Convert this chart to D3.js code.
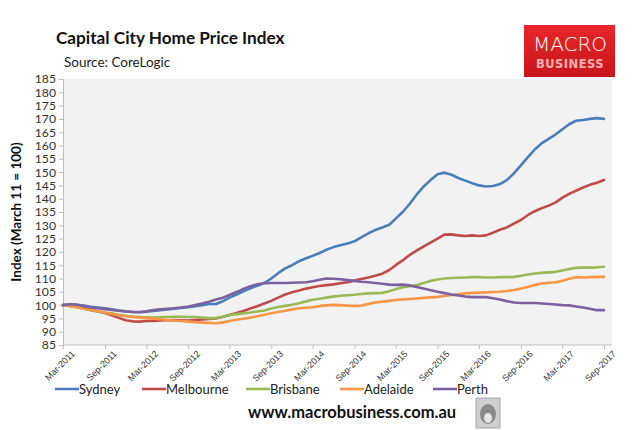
<!DOCTYPE html>
<html>
<head>
<meta charset="utf-8">
<script src="https://cdn.jsdelivr.net/npm/d3@7"></script>
<style>
  body { margin: 0; background: #fff; }
  svg { font-family: Lato, "Open Sans", sans-serif; }
</style>
</head>
<body>
<svg id="chart" width="640" height="430"></svg>
<script>
// monthly index, Mar-2011 .. Sep-2017
var sydney = [100, 100.2, 100, 99.8, 99.4, 99.1, 98.8, 98.4, 98, 97.7, 97.4, 97.3,
  97.5, 97.8, 98.1, 98.4, 98.6, 98.9, 99.2, 99.6, 100, 100.4, 100.4, 101.5,
  102.8, 104, 105.2, 106.3, 107.3, 108.3, 110, 112, 113.8, 115, 116.5, 117.6,
  118.5, 119.6, 120.8, 121.8, 122.5, 123.2, 124, 125.5, 127, 128.2, 129.2, 130.2,
  132.5, 135, 138, 141.5, 144.5, 147, 149.2, 149.8, 149, 147.8, 146.8, 145.8,
  145, 144.6, 144.8, 145.5, 147, 149.5, 152.5, 155.5, 158.5, 160.8, 162.5, 164.2,
  166, 168, 169.3, 169.6, 170, 170.3, 170];
var melbourne = [100, 99.8, 99.3, 98.8, 98.2, 97.6, 97, 96.2, 95.2, 94.3, 93.9, 93.8,
  94, 94, 94.2, 94.3, 94.4, 94.3, 94.2, 94.4, 94.6, 94.8, 95, 95.6,
  96.3, 97, 97.8, 98.7, 99.6, 100.6, 101.6, 102.8, 104, 104.8, 105.5, 106.2,
  106.7, 107.2, 107.5, 107.8, 108.2, 108.6, 109.2, 109.8, 110.4, 111, 111.8, 113.2,
  115, 116.8, 118.8, 120.5, 122, 123.5, 125, 126.5, 126.6, 126.2, 126, 126.2,
  126, 126.2, 127.2, 128.3, 129.2, 130.6, 132, 133.8, 135.3, 136.4, 137.4, 138.6,
  140.3, 141.8, 143, 144.2, 145.2, 146, 147];
var brisbane = [100, 99.6, 99.1, 98.6, 98.1, 97.6, 97.1, 96.8, 96.4, 96, 95.7, 95.5,
  95.4, 95.3, 95.4, 95.5, 95.6, 95.6, 95.5, 95.5, 95.3, 95.1, 95.1, 95.7,
  96.3, 96.6, 96.9, 97.2, 97.6, 98, 98.7, 99.3, 99.7, 100.1, 100.7, 101.4,
  102, 102.4, 102.8, 103.2, 103.5, 103.7, 103.9, 104.2, 104.4, 104.5, 104.6, 105.2,
  106, 106.7, 107.1, 107.5, 108.3, 109.1, 109.6, 110, 110.2, 110.3, 110.4, 110.5,
  110.5, 110.4, 110.4, 110.5, 110.5, 110.6, 111, 111.5, 111.9, 112.1, 112.3, 112.5,
  113, 113.6, 114, 114.1, 114.1, 114.2, 114.4];
var adelaide = [100, 99.7, 99.2, 98.7, 98.2, 97.7, 97.2, 96.7, 96.2, 95.8, 95.5, 95.3,
  95.1, 94.9, 94.7, 94.4, 94.2, 94, 93.8, 93.6, 93.4, 93.3, 93.2, 93.5,
  94, 94.5, 94.9, 95.3, 95.8, 96.4, 96.9, 97.4, 97.9, 98.4, 98.8, 99,
  99.2, 99.6, 99.9, 100.1, 100, 99.8, 99.7, 99.8, 100.4, 101, 101.3, 101.6,
  101.9, 102.1, 102.3, 102.5, 102.7, 102.9, 103.1, 103.4, 103.8, 104.1, 104.4, 104.6,
  104.7, 104.8, 104.9, 105, 105.3, 105.7, 106.2, 106.8, 107.6, 108.1, 108.4, 108.6,
  109.1, 109.9, 110.5, 110.4, 110.5, 110.6, 110.6];
var perth = [100, 100.3, 100.2, 99.6, 99.1, 98.8, 98.5, 98.2, 97.9, 97.6, 97.4, 97.4,
  97.7, 98.1, 98.4, 98.6, 98.8, 99.1, 99.5, 100, 100.6, 101.3, 102.1, 102.8,
  103.8, 104.9, 106.1, 107.1, 107.8, 108.2, 108.3, 108.3, 108.3, 108.4, 108.5, 108.6,
  109, 109.5, 110, 109.9, 109.7, 109.4, 109.1, 108.8, 108.6, 108.3, 108, 107.7,
  107.6, 107.7, 107.4, 106.8, 106.2, 105.6, 105, 104.5, 104, 103.6, 103.2, 103,
  103, 103, 102.6, 102.1, 101.5, 101, 100.8, 100.8, 100.8, 100.6, 100.4, 100.2,
  100, 99.9, 99.5, 99.1, 98.6, 98.1, 98.1];

var cities = ['Sydney', 'Melbourne', 'Brisbane', 'Adelaide', 'Perth'];
var colors = ['#4a7ebb', '#be4b48', '#98b954', '#f79646', '#7d60a0'];
var seriesValues = [sydney, melbourne, brisbane, adelaide, perth];
var xTickLabels = ['Mar-2011', 'Sep-2011', 'Mar-2012', 'Sep-2012', 'Mar-2013', 'Sep-2013',
  'Mar-2014', 'Sep-2014', 'Mar-2015', 'Sep-2015', 'Mar-2016', 'Sep-2016', 'Mar-2017', 'Sep-2017'];
var yTicks = d3.range(85, 186, 5);

var months = d3.timeMonth.range(new Date(2011, 2, 1), new Date(2017, 9, 1));
var parseTick = d3.timeParse('%b-%Y');

var svg = d3.select('#chart');
var margin = { top: 79, right: 28, bottom: 85, left: 63 };
var width = 640 - margin.left - margin.right;
var height = 430 - margin.top - margin.bottom;

var x = d3.scaleTime().domain([months[0], months[months.length - 1]]).range([0, width - 8]);
var y = d3.scaleLinear().domain([85, 185]).range([height, 0]);

// title block
svg.append('text').attr('x', 56).attr('y', 44)
  .style('font-size', '17.2px').style('font-weight', 'bold').style('fill', '#111')
  .text('Capital City Home Price Index');
svg.append('text').attr('x', 64).attr('y', 67)
  .style('font-size', '13.5px').style('fill', '#222')
  .text('Source: CoreLogic');

// logo box
var logo = svg.append('g').attr('transform', 'translate(524,25)');
var grad = svg.append('defs').append('linearGradient').attr('id', 'red')
  .attr('x1', 0).attr('y1', 0).attr('x2', 0).attr('y2', 1);
grad.append('stop').attr('offset', '0%').attr('stop-color', '#e8262a');
grad.append('stop').attr('offset', '100%').attr('stop-color', '#c8161b');
logo.append('rect').attr('width', 91).attr('height', 52).attr('fill', 'url(#red)');
logo.append('text').attr('x', 46).attr('y', 26).attr('text-anchor', 'middle')
  .style('font-family', '"DejaVu Sans", sans-serif').style('font-size', '20px')
  .style('fill', '#fff').style('font-weight', '300').text('MACRO');
logo.append('text').attr('x', 46).attr('y', 43).attr('text-anchor', 'middle')
  .style('font-family', '"DejaVu Sans", sans-serif').style('font-size', '11.5px')
  .style('font-weight', 'bold').style('letter-spacing', '0.5px')
  .style('fill', '#f7b3b3').text('BUSINESS');

var g = svg.append('g').attr('transform', 'translate(' + margin.left + ',' + margin.top + ')');

g.append('rect').attr('width', width).attr('height', height).attr('fill', '#f2f2f2');

// y axis
var yAxis = g.append('g').call(d3.axisLeft(y).tickValues(yTicks).tickSize(4).tickPadding(3));
yAxis.select('.domain').attr('stroke', '#bdbdbd');
yAxis.selectAll('.tick line').attr('stroke', '#bdbdbd');
yAxis.selectAll('text').style('font-size', '12.2px').style('fill', '#333').style('font-family', 'Lato, sans-serif');

// x axis
var xAxis = g.append('g').attr('transform', 'translate(0,' + height + ')')
  .call(d3.axisBottom(x).tickValues(xTickLabels.map(parseTick))
    .tickFormat(d3.timeFormat('%b-%Y')).tickSize(4).tickSizeOuter(0));
xAxis.select('.domain').attr('stroke', '#bdbdbd').attr('d', 'M0.5,0H' + width);
xAxis.selectAll('.tick line').attr('stroke', '#bdbdbd');
xAxis.selectAll('text')
  .style('font-size', '9px').style('fill', '#333')
  .attr('text-anchor', 'end').attr('dx', '0.2em').attr('dy', '0.9em')
  .attr('transform', 'rotate(-45)');

// y title
svg.append('text').attr('transform', 'translate(21,212) rotate(-90)')
  .attr('text-anchor', 'middle').style('font-size', '13.5px').style('font-weight', 'bold')
  .style('fill', '#111').text('Index (March 11 = 100)');

// lines
var line = d3.line()
  .x(function(d, i) { return x(months[i]); })
  .y(function(d) { return y(d); });

seriesValues.forEach(function(values, i) {
  g.append('path').datum(values)
    .attr('fill', 'none').attr('stroke', colors[i]).attr('stroke-width', 2.6)
    .attr('stroke-linejoin', 'round').attr('stroke-linecap', 'round')
    .attr('d', line);
});

// legend
var legendX = [55, 142, 246, 340, 433];
var legend = svg.append('g').attr('transform', 'translate(0,389)');
cities.forEach(function(name, i) {
  legend.append('line').attr('x1', legendX[i]).attr('x2', legendX[i] + 24)
    .attr('stroke', colors[i]).attr('stroke-width', 2.6);
  legend.append('text').attr('x', legendX[i] + 24).attr('y', 4.5)
    .style('font-size', '13px').style('fill', '#222').text(name);
});

// footer
svg.append('text').attr('x', 248).attr('y', 418)
  .style('font-size', '16.5px').style('font-weight', 'bold').style('fill', '#111')
  .text('www.macrobusiness.com.au');
var wolf = svg.append('g').attr('transform', 'translate(476,398)');
wolf.append('rect').attr('width', 24).attr('height', 30)
  .attr('fill', '#cfcfcf').attr('stroke', '#999').attr('stroke-width', 0.8);
wolf.append('ellipse').attr('cx', 12).attr('cy', 16).attr('rx', 8).attr('ry', 10).attr('fill', '#8a8a8a');
wolf.append('ellipse').attr('cx', 12).attr('cy', 20).attr('rx', 4).attr('ry', 5).attr('fill', '#e6e6e6');
</script>
</body>
</html>
